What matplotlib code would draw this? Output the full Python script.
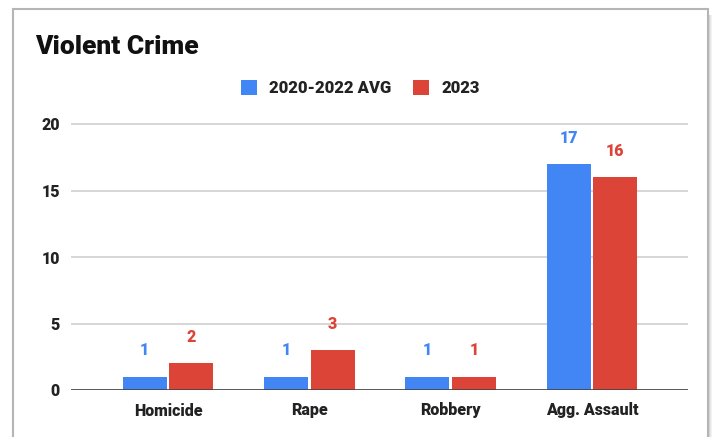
import matplotlib
matplotlib.use("Agg")
import matplotlib.pyplot as plt
from matplotlib.patches import Rectangle

plt.rcParams['font.family'] = ['Roboto', 'DejaVu Sans']

categories = ['Homicide', 'Rape', 'Robbery', 'Agg. Assault']
avg_2020_2022 = [1, 1, 1, 17]
year_2023 = [2, 3, 1, 16]
series_names = ['2020-2022 AVG', '2023']
yticks = [0, 5, 10, 15, 20]

BLUE = '#4285F4'
RED = '#DB4437'
W, H = 716, 437
WEIGHT = 'heavy'

fig = plt.figure(figsize=(W / 100, H / 100), dpi=100)
fig.patch.set_facecolor('white')

# card look: shadow on the right then the grey border (kept behind the axes)
for i, a in enumerate([0.35, 0.2, 0.1]):
    fig.patches.append(Rectangle(((709 + i) / W, -0.1), 1 / W, (H - 11 + 40) / H,
                                 transform=fig.transFigure, facecolor='#888888',
                                 edgecolor='none', alpha=a, zorder=-2))
fig.patches.append(Rectangle((13 / W, -0.1), (708 - 13) / W, (H - 9) / H + 0.1,
                             transform=fig.transFigure, facecolor='white',
                             edgecolor='#b5b5b5', linewidth=1.5, zorder=-1))

# axes placement in pixels
x_left, x_right = 71, 688
y_zero, y_top = 390, 120
px_unit = (390 - 124) / 20
ax = fig.add_axes([x_left / W, (H - y_zero) / H, (x_right - x_left) / W, (y_zero - y_top) / H])
ax.set_facecolor('none')
ax.set_zorder(2)

step = 141.3
ax.set_xlim((x_left - 168) / step, (x_right - 168) / step)
ax.set_ylim(0, (y_zero - y_top) / px_unit)

bw = 44 / step
off = 23.3 / step
xs = list(range(len(categories)))
b1 = ax.bar([x - off for x in xs], avg_2020_2022, width=bw, color=BLUE, zorder=3)
b2 = ax.bar([x + off for x in xs], year_2023, width=bw, color=RED, zorder=3)

for bars, vals, c in [(b1, avg_2020_2022, BLUE), (b2, year_2023, RED)]:
    for b, v in zip(bars, vals):
        ax.annotate(str(v), (b.get_x() + b.get_width() / 2, v), xytext=(0, 19),
                    textcoords='offset points', ha='center', va='center',
                    color=c, fontsize=11.5, fontweight=WEIGHT)

for sp in ax.spines.values():
    sp.set_visible(False)
ax.set_yticks(yticks)
ax.set_yticklabels([str(t) for t in yticks])
ax.yaxis.grid(True, color='#d0d0d0', linewidth=1.2, zorder=0)
ax.axhline(0, color='#444444', linewidth=1.2, zorder=4)
ax.set_xticks(xs)
ax.set_xticklabels(categories)
ax.tick_params(axis='both', length=0, labelsize=11.5, labelcolor='#222222')
ax.tick_params(axis='y', pad=8)
ax.tick_params(axis='x', pad=9)
for lab in ax.get_xticklabels() + ax.get_yticklabels():
    lab.set_fontweight(WEIGHT)

fig.text(35 / W, 1 - 47 / H, 'Violent Crime', fontsize=19, fontweight=WEIGHT,
         color='#111111', va='center', ha='left')

leg = fig.legend([b1, b2], series_names, loc='center', bbox_to_anchor=(360 / W, 1 - 88 / H),
                 ncol=2, frameon=False, fontsize=12, handlelength=1.0, handleheight=1.0,
                 columnspacing=1.3, handletextpad=0.7)
for t in leg.get_texts():
    t.set_fontweight(WEIGHT)
    t.set_color('#222222')

fig.savefig('out.png', dpi=100)
